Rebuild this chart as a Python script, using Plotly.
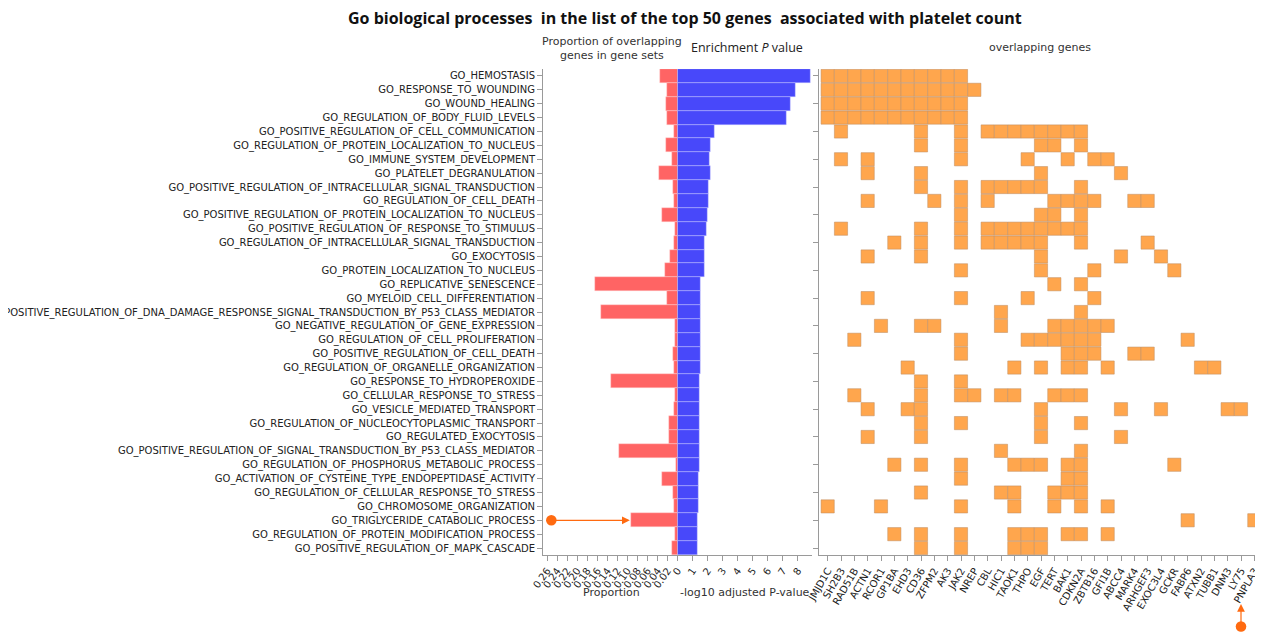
import plotly.graph_objects as go

terms = [
    "GO_HEMOSTASIS",
    "GO_RESPONSE_TO_WOUNDING",
    "GO_WOUND_HEALING",
    "GO_REGULATION_OF_BODY_FLUID_LEVELS",
    "GO_POSITIVE_REGULATION_OF_CELL_COMMUNICATION",
    "GO_REGULATION_OF_PROTEIN_LOCALIZATION_TO_NUCLEUS",
    "GO_IMMUNE_SYSTEM_DEVELOPMENT",
    "GO_PLATELET_DEGRANULATION",
    "GO_POSITIVE_REGULATION_OF_INTRACELLULAR_SIGNAL_TRANSDUCTION",
    "GO_REGULATION_OF_CELL_DEATH",
    "GO_POSITIVE_REGULATION_OF_PROTEIN_LOCALIZATION_TO_NUCLEUS",
    "GO_POSITIVE_REGULATION_OF_RESPONSE_TO_STIMULUS",
    "GO_REGULATION_OF_INTRACELLULAR_SIGNAL_TRANSDUCTION",
    "GO_EXOCYTOSIS",
    "GO_PROTEIN_LOCALIZATION_TO_NUCLEUS",
    "GO_REPLICATIVE_SENESCENCE",
    "GO_MYELOID_CELL_DIFFERENTIATION",
    "GO_POSITIVE_REGULATION_OF_DNA_DAMAGE_RESPONSE_SIGNAL_TRANSDUCTION_BY_P53_CLASS_MEDIATOR",
    "GO_NEGATIVE_REGULATION_OF_GENE_EXPRESSION",
    "GO_REGULATION_OF_CELL_PROLIFERATION",
    "GO_POSITIVE_REGULATION_OF_CELL_DEATH",
    "GO_REGULATION_OF_ORGANELLE_ORGANIZATION",
    "GO_RESPONSE_TO_HYDROPEROXIDE",
    "GO_CELLULAR_RESPONSE_TO_STRESS",
    "GO_VESICLE_MEDIATED_TRANSPORT",
    "GO_REGULATION_OF_NUCLEOCYTOPLASMIC_TRANSPORT",
    "GO_REGULATED_EXOCYTOSIS",
    "GO_POSITIVE_REGULATION_OF_SIGNAL_TRANSDUCTION_BY_P53_CLASS_MEDIATOR",
    "GO_REGULATION_OF_PHOSPHORUS_METABOLIC_PROCESS",
    "GO_ACTIVATION_OF_CYSTEINE_TYPE_ENDOPEPTIDASE_ACTIVITY",
    "GO_REGULATION_OF_CELLULAR_RESPONSE_TO_STRESS",
    "GO_CHROMOSOME_ORGANIZATION",
    "GO_TRIGLYCERIDE_CATABOLIC_PROCESS",
    "GO_REGULATION_OF_PROTEIN_MODIFICATION_PROCESS",
    "GO_POSITIVE_REGULATION_OF_MAPK_CASCADE",
]

proportion = [
    0.035, 0.020, 0.023, 0.020, 0.0066, 0.022, 0.0105, 0.036, 0.0085, 0.006,
    0.030, 0.0053, 0.006, 0.015, 0.025, 0.165, 0.020, 0.152, 0.0053, 0.0053,
    0.0093, 0.006, 0.132, 0.005, 0.006, 0.0165, 0.0165, 0.116, 0.0033, 0.030,
    0.008, 0.006, 0.093, 0.004, 0.010,
]

neg_log10_padj = [
    8.88, 7.82, 7.49, 7.27, 2.47, 2.20, 2.15, 2.20, 2.09, 2.09,
    2.02, 1.93, 1.82, 1.80, 1.80, 1.53, 1.53, 1.53, 1.53, 1.53,
    1.53, 1.53, 1.49, 1.47, 1.47, 1.47, 1.47, 1.47, 1.44, 1.40,
    1.38, 1.38, 1.33, 1.33, 1.33,
]

genes = [
    "JMJD1C", "SH2B3", "RAD51B", "ACTN1", "RCOR1", "GP1BA", "EHD3", "CD36",
    "ZFPM2", "AK3", "JAK2", "NREP", "CBL", "HIC1", "TAOK1", "THPO", "EGF",
    "TERT", "BAK1", "CDKN2A", "ZBTB16", "GFI1B", "ABCC4", "MARK4", "ARHGEF3",
    "EXOC3L4", "GCKR", "FABP6", "ATXN2", "TUBB1", "DNM3", "LY75", "PNPLA3",
]

overlap = [
    "JMJD1C SH2B3 RAD51B ACTN1 RCOR1 GP1BA EHD3 CD36 ZFPM2 AK3 JAK2",
    "JMJD1C SH2B3 RAD51B ACTN1 RCOR1 GP1BA EHD3 CD36 ZFPM2 AK3 JAK2 NREP",
    "JMJD1C SH2B3 RAD51B ACTN1 RCOR1 GP1BA EHD3 CD36 ZFPM2 AK3 JAK2",
    "JMJD1C SH2B3 RAD51B ACTN1 RCOR1 GP1BA EHD3 CD36 ZFPM2 AK3 JAK2",
    "SH2B3 CD36 JAK2 CBL HIC1 TAOK1 THPO EGF TERT BAK1 CDKN2A",
    "CD36 JAK2 EGF TERT CDKN2A",
    "SH2B3 ACTN1 JAK2 THPO BAK1 ZBTB16 GFI1B",
    "ACTN1 CD36 EGF ABCC4",
    "CD36 JAK2 CBL HIC1 TAOK1 THPO EGF CDKN2A",
    "ACTN1 ZFPM2 JAK2 CBL TERT BAK1 CDKN2A ZBTB16 MARK4 ARHGEF3",
    "JAK2 EGF TERT CDKN2A",
    "SH2B3 CD36 JAK2 CBL HIC1 TAOK1 THPO EGF TERT BAK1 CDKN2A",
    "GP1BA CD36 JAK2 CBL HIC1 TAOK1 THPO EGF CDKN2A ARHGEF3",
    "ACTN1 CD36 EGF ABCC4 EXOC3L4",
    "JAK2 EGF ZBTB16 GCKR",
    "TERT CDKN2A",
    "ACTN1 JAK2 THPO ZBTB16",
    "HIC1 CDKN2A",
    "RCOR1 CD36 ZFPM2 HIC1 TERT BAK1 CDKN2A ZBTB16 GFI1B",
    "RAD51B JAK2 THPO EGF TERT BAK1 CDKN2A ZBTB16 FABP6",
    "JAK2 BAK1 CDKN2A ZBTB16 MARK4 ARHGEF3",
    "EHD3 TAOK1 EGF BAK1 CDKN2A GFI1B ATXN2 TUBB1",
    "CD36 JAK2",
    "RAD51B CD36 JAK2 NREP HIC1 TAOK1 TERT BAK1 CDKN2A",
    "ACTN1 EHD3 CD36 EGF ABCC4 EXOC3L4 DNM3 LY75",
    "CD36 JAK2 EGF CDKN2A",
    "ACTN1 CD36 EGF ABCC4",
    "HIC1 CDKN2A",
    "GP1BA CD36 JAK2 TAOK1 THPO EGF BAK1 CDKN2A GCKR",
    "JAK2 BAK1 CDKN2A",
    "CD36 HIC1 TAOK1 TERT BAK1 CDKN2A",
    "JMJD1C RCOR1 JAK2 TAOK1 TERT CDKN2A GFI1B",
    "FABP6 PNPLA3",
    "GP1BA CD36 JAK2 TAOK1 THPO EGF BAK1 CDKN2A GFI1B",
    "CD36 JAK2 TAOK1 THPO EGF",
]

prop_ticks = [0.26, 0.24, 0.22, 0.20, 0.18, 0.16, 0.14, 0.12, 0.10, 0.08, 0.06, 0.04, 0.02]
prop_ticktext = ["0.26", "0.24", "0.22", "0.20", "0.18", "0.16", "0.14", "0.12",
                 "0.10", "0.08", "0.06", "0.04", "0.02"]
p_ticks = [0, 1, 2, 3, 4, 5, 6, 7, 8]

hx, hy = [], []
for term, members in zip(terms, overlap):
    for g in members.split():
        hx.append(genes.index(g))
        hy.append(term)

# page offset of the figure inside the browser (default body margin)
OX, OY = 8, 8
W, H = 1263, 635
# screen-pixel layout targets
S_LEFT, S_RIGHT, S_TOP, S_BOTTOM = 543, 1262, 69, 555
L = S_LEFT - OX
R = W - (S_RIGHT - OX)
T = S_TOP - OY
B = H - (S_BOTTOM - OY)
PW = W - L - R
PH = H - T - B


def px(S):
    return (S - OX - L) / PW


def py(S):
    return (H - B - (S - OY)) / PH


fig = go.Figure()
fig.add_trace(go.Bar(
    x=proportion, y=terms, orientation="h", xaxis="x", yaxis="y",
    marker=dict(color="#FF6464", line=dict(color="rgba(255,210,210,0.8)", width=0.5)),
))
fig.add_trace(go.Bar(
    x=neg_log10_padj, y=terms, orientation="h", xaxis="x2", yaxis="y2",
    marker=dict(color="#4848FA", line=dict(color="rgba(200,200,255,0.8)", width=0.5)),
))
fig.add_trace(go.Scatter(
    x=hx, y=hy, mode="markers", xaxis="x3", yaxis="y3",
    marker=dict(symbol="square", size=13.2, color="#FFA64D",
                line=dict(color="rgba(190,140,95,0.75)", width=0.7)),
))

axis_common = dict(showgrid=False, zeroline=False, showline=True, linecolor="#9a9a9a",
                   linewidth=1, ticks="outside", ticklen=5, tickcolor="#9a9a9a",
                   automargin=False,
                   tickfont=dict(family="DejaVu Sans", size=10, color="#222"))

ycats = dict(type="category", categoryorder="array", categoryarray=terms,
             range=[len(terms) - 0.5, -0.5])

d1 = px(677.5)
d2 = px(811.7)
d3 = px(819)

fig.update_layout(
    width=W, height=H,
    margin=dict(l=L, r=R, t=T, b=B),
    plot_bgcolor="white", paper_bgcolor="white",
    showlegend=False, bargap=0,
    font=dict(family="DejaVu Sans", size=10, color="#222"),
    xaxis=dict(domain=[0, d1], range=[0.268, 0], tickvals=prop_ticks,
               ticktext=prop_ticktext, tickangle=-55, anchor="y", **axis_common),
    xaxis2=dict(domain=[d1, d2], range=[0, 8.93], tickvals=p_ticks, tickangle=-55,
                anchor="y2", **axis_common),
    xaxis3=dict(domain=[d3, 1], range=[-0.65, len(genes) - 0.425], tickvals=list(range(len(genes))),
                ticktext=genes, tickangle=-60, anchor="y3", **axis_common),
    yaxis=dict(domain=[0, 1], anchor="x", **ycats, **axis_common),
    yaxis2=dict(domain=[0, 1], anchor="x2", **ycats, showticklabels=False, automargin=False,
                showline=False, ticks="", showgrid=False, zeroline=False),
    yaxis3=dict(domain=[0, 1], anchor="x3", **ycats, showticklabels=False,
                **{k: v for k, v in axis_common.items() if k != "tickfont"}),
)

annotations = [
    dict(text="<b>Go biological processes  in the list of the top 50 genes  associated with platelet count</b>",
         x=px(685), y=py(18), font=dict(family="Open Sans", size=16, color="#111")),
    dict(text="Proportion of overlapping<br>genes in gene sets", x=px(612), y=py(48),
         font=dict(family="DejaVu Sans", size=11, color="#333")),
    dict(text="Enrichment <i>P</i> value", x=px(747), y=py(47),
         font=dict(family="Open Sans", size=12.5, color="#222")),
    dict(text="overlapping genes", x=px(1040), y=py(47),
         font=dict(family="DejaVu Sans", size=11, color="#333")),
    dict(text="Proportion", x=px(611), y=py(592),
         font=dict(family="DejaVu Sans", size=11, color="#333")),
    dict(text="-log10 adjusted P-value", x=px(745), y=py(592),
         font=dict(family="DejaVu Sans", size=11, color="#333")),
]
for a in annotations:
    a.update(xref="paper", yref="paper", showarrow=False, xanchor="center", yanchor="middle")

tri = terms.index("GO_TRIGLYCERIDE_CATABOLIC_PROCESS")
annotations.append(dict(
    x=proportion[tri], y=tri, xref="x", yref="y", text="", showarrow=True,
    ax=-81, ay=0, axref="pixel", ayref="pixel",
    arrowside="end+start", arrowhead=2, startarrowhead=6,
    arrowsize=1.3, startarrowsize=2.2, arrowwidth=1.2, arrowcolor="#FF6A10", standoff=1,
))
annotations.append(dict(
    x=genes.index("LY75"), y=py(604), xref="x3", yref="paper", text="", showarrow=True,
    ax=0, ay=24, axref="pixel", ayref="pixel",
    arrowside="end+start", arrowhead=2, startarrowhead=6,
    arrowsize=1.3, startarrowsize=2.2, arrowwidth=1.2, arrowcolor="#FF6A10",
))
fig.update_layout(annotations=annotations)

fig.write_html("out.html")
